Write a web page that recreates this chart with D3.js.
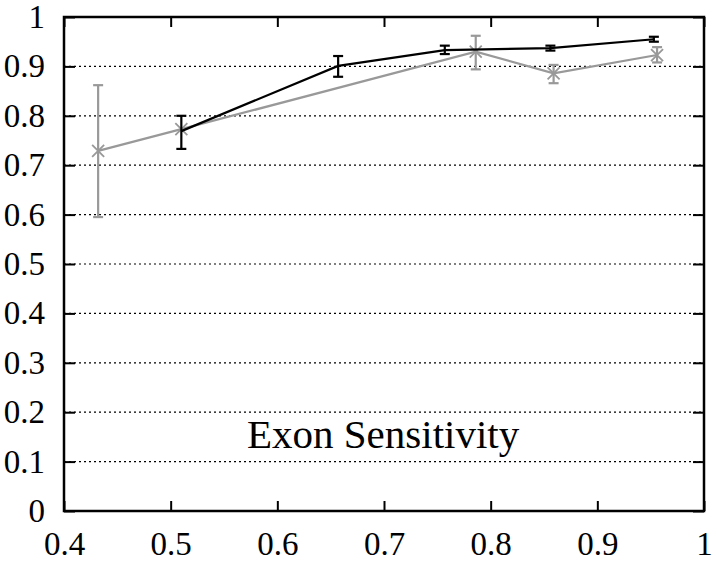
<!DOCTYPE html>
<html>
<head>
<meta charset="utf-8">
<script src="https://cdn.jsdelivr.net/npm/d3@7"></script>
<style>
  body { margin: 0; background: #fff; }
  svg text { font-family: "Liberation Serif", "Times New Roman", serif; }
</style>
</head>
<body>
<script>
// data
var xTicks = [0.4, 0.5, 0.6, 0.7, 0.8, 0.9, 1]
var yTicks = [0, 0.1, 0.2, 0.3, 0.4, 0.5, 0.6, 0.7, 0.8, 0.9, 1]

var blackX  = [0.510, 0.657, 0.757, 0.856, 0.953]
var blackY  = [0.769, 0.901, 0.933, 0.937, 0.955]
var blackLo = [0.733, 0.879, 0.925, 0.932, 0.950]
var blackHi = [0.800, 0.921, 0.942, 0.942, 0.960]

var grayX  = [0.432, 0.510, 0.786, 0.859, 0.956]
var grayY  = [0.729, 0.773, 0.930, 0.886, 0.923]
var grayLo = [0.595, 0.773, 0.894, 0.866, 0.908]
var grayHi = [0.862, 0.773, 0.962, 0.903, 0.939]

var title = "Exon Sensitivity"

var W = 717, H = 561
// plot box (note: "top" is a reserved window global, so use prefixed names)
var pL = 64, pR = 704, pT = 17, pB = 511

var svg = d3.select("body")
            .append("svg")
            .attr("width", W)
            .attr("height", H)
            .style("background-color", "white")

var x = d3.scaleLinear().domain([0.4, 1]).range([pL, pR])
var y = d3.scaleLinear().domain([0, 1]).range([pB, pT])

// dotted grid
svg.append("g").selectAll("line")
    .data(yTicks.filter(d => d > 0 && d < 1))
    .enter()
    .append("line")
    .attr("x1", pL)
    .attr("x2", pR)
    .attr("y1", d => y(d))
    .attr("y2", d => y(d))
    .attr("stroke", "#000")
    .attr("stroke-width", 1.2)
    .attr("stroke-dasharray", "2,3")

// title
svg.append("text")
    .attr("x", 247)
    .attr("y", 448)
    .attr("font-size", 41)
    .attr("fill", "#000")
    .text(title)

function series(xs, ys, lo, hi, color, marker) {
    var g = svg.append("g")
    var pts = xs.map((d, i) => ({x: d, y: ys[i], lo: lo[i], hi: hi[i]}))
    g.append("path")
        .datum(pts)
        .attr("fill", "none")
        .attr("stroke", color)
        .attr("stroke-width", 2.2)
        .attr("d", d3.line().x(d => x(d.x)).y(d => y(d.y)))
    var bars = g.selectAll(".err")
        .data(pts.filter(d => d.hi > d.lo))
        .enter()
        .append("g")
        .attr("stroke", color)
        .attr("stroke-width", 2.2)
    bars.append("line")
        .attr("x1", d => x(d.x)).attr("x2", d => x(d.x))
        .attr("y1", d => y(d.lo)).attr("y2", d => y(d.hi))
    bars.append("line")
        .attr("x1", d => x(d.x) - 5).attr("x2", d => x(d.x) + 5)
        .attr("y1", d => y(d.lo)).attr("y2", d => y(d.lo))
    bars.append("line")
        .attr("x1", d => x(d.x) - 5).attr("x2", d => x(d.x) + 5)
        .attr("y1", d => y(d.hi)).attr("y2", d => y(d.hi))
    if (marker == "x") {
        g.selectAll(".mk")
            .data(pts)
            .enter()
            .append("path")
            .attr("stroke", color)
            .attr("stroke-width", 1.8)
            .attr("fill", "none")
            .attr("d", d => {
                var cx = x(d.x), cy = y(d.y), s = 6
                return "M" + (cx - s) + "," + (cy - s) + "L" + (cx + s) + "," + (cy + s) +
                       "M" + (cx - s) + "," + (cy + s) + "L" + (cx + s) + "," + (cy - s)
            })
    }
}

series(grayX, grayY, grayLo, grayHi, "#999", "x")
series(blackX, blackY, blackLo, blackHi, "#000", "plus")

// axes, ticks pointing inward
var fs = 33
var axB = svg.append("g")
    .attr("transform", "translate(0," + pB + ")")
    .call(d3.axisBottom(x).tickValues(xTicks).tickSize(-10).tickPadding(21).tickFormat(d => d))
var axT = svg.append("g")
    .attr("transform", "translate(0," + pT + ")")
    .call(d3.axisTop(x).tickValues(xTicks).tickSize(-10).tickFormat(""))
var axL = svg.append("g")
    .attr("transform", "translate(" + pL + ",0)")
    .call(d3.axisLeft(y).tickValues(yTicks).tickSize(-11).tickPadding(19).tickFormat(d => d))
var axR = svg.append("g")
    .attr("transform", "translate(" + pR + ",0)")
    .call(d3.axisRight(y).tickValues(yTicks).tickSize(-11).tickFormat(""))

;[axB, axT, axL, axR].forEach(a => {
    a.select(".domain").remove()
    a.selectAll(".tick line").attr("stroke", "#000").attr("stroke-width", 2)
    a.selectAll("text")
        .attr("font-size", fs)
        .attr("fill", "#000")
        .style("font-family", '"Liberation Serif", "Times New Roman", serif')
})

// frame
svg.append("rect")
    .attr("x", pL)
    .attr("y", pT)
    .attr("width", pR - pL)
    .attr("height", pB - pT)
    .attr("fill", "none")
    .attr("stroke", "#000")
    .attr("stroke-width", 2.5)
</script>
</body>
</html>
